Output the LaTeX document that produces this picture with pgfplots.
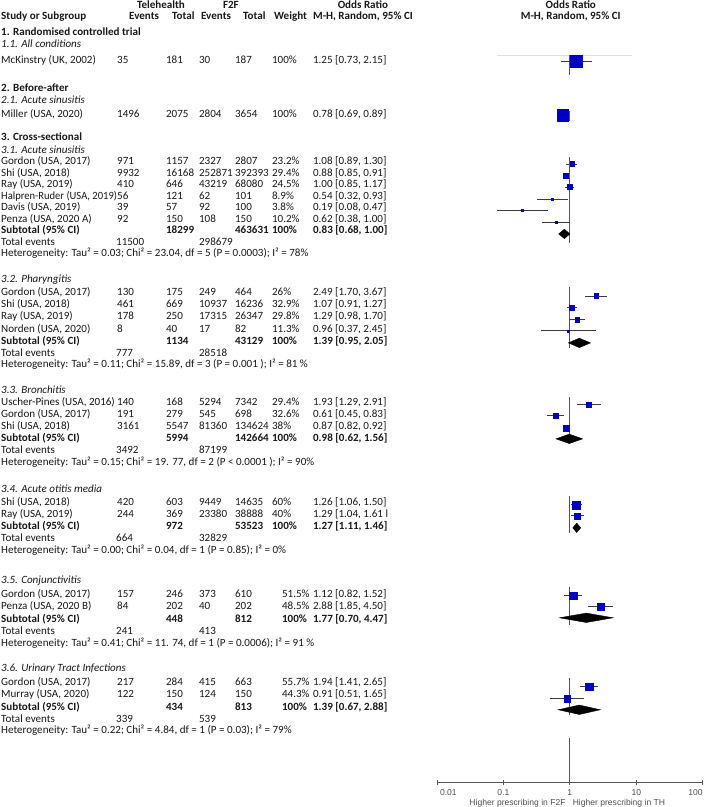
\documentclass[border=0pt]{standalone}
\usepackage{fontspec}
\setmainfont{Carlito}
\newfontfamily\arialfont{Liberation Sans}
\usepackage{graphicx}
\usepackage{pgfplots}
\pgfplotsset{compat=1.18}
\definecolor{sqblue}{RGB}{0,0,195}
\definecolor{txtc}{RGB}{25,25,25}
\definecolor{linec}{RGB}{60,60,60}
\definecolor{vlc}{RGB}{85,85,85}
\definecolor{labc}{RGB}{80,80,80}
\newcommand{\fs}{\fontsize{11.1}{12}\selectfont}
\newcommand{\afs}{\arialfont\fontsize{8.6}{9}\selectfont}
\def\wx{272}
\newcommand{\St}[8]{%
  \node[T] at (1,{#1+3.5}) {#2};
  \node[T] at (117,{#1+3.5}) {#3};
  \node[T] at (166,{#1+3.5}) {#4};
  \node[T] at (199,{#1+3.5}) {#5};
  \node[T] at (235,{#1+3.5}) {#6};
  \node[T] at (\wx,{#1+3.5}) {#7};
  \node[T] at (313,{#1+3.5}) {#8};}
\newcommand{\Sub}[5]{%
  \node[TB] at (1,{#1+3.5}) {Subtotal (95\% CI)};
  \node[TB] at (166,{#1+3.5}) {#2};
  \node[TB] at (235,{#1+3.5}) {#3};
  \node[TB] at (\wx,{#1+3.5}) {#4};
  \node[TB] at (313,{#1+3.5}) {#5};}
\newcommand{\Tot}[3]{%
  \node[T] at (1,{#1+3.5}) {Total events};
  \node[T] at (116,{#1+3.5}) {#2};
  \node[T] at (199,{#1+3.5}) {#3};}
\newcommand{\Het}[2]{\node[T] at (1,{#1+3.5}) {#2};}
\newcommand{\Grp}[2]{\node[TB] at (1,{#1+3.5}) {#2};}
\newcommand{\Sgp}[2]{\node[TI] at (1,{#1+3.5}) {#2};}
\begin{document}
\begin{tikzpicture}
\begin{scope}[x=1bp,y=-1bp,
  T/.style={anchor=base west, inner sep=0pt, font=\fs, text=txtc},
  TB/.style={T, font=\fs\bfseries},
  TI/.style={T, font=\fs\itshape},
  H/.style={anchor=base, inner sep=0pt, font=\fs\bfseries, text=txtc}]
\useasboundingbox (0,0) rectangle (704,807);
% header
\node[H] at (161,8.5) {Telehealth};
\node[H] at (231,8.5) {F2F};
\node[H] at (363,8.5) {Odds Ratio};
\node[H] at (571,8.5) {Odds Ratio};
\node[TB] at (1,19.5) {Study or Subgroup};
\node[TB] at (129,19.5) {Events};
\node[TB] at (172,19.5) {Total};
\node[TB] at (201,19.5) {Events};
\node[TB] at (243,19.5) {Total};
\node[TB] at (274,19.5) {Weight};
\node[TB] at (313,19.5) {M-H, Random, 95\% CI};
\node[H] at (571,19.5) {M-H, Random, 95\% CI};
% 1
\Grp{32}{1. Randomised controlled trial}
\Sgp{44}{1.1. All conditions}
\St{60}{McKinstry (UK, 2002)}{35}{181}{30}{187}{100\%}{1.25 [0.73, 2.15]}
% 2
\Grp{88}{2. Before-after}
\Sgp{100}{2.1. Acute sinusitis}
\St{114}{Miller (USA, 2020)}{1496}{2075}{2804}{3654}{100\%}{0.78 [0.69, 0.89]}
% 3
\Grp{137}{3. Cross-sectional}
\Sgp{150}{3.1. Acute sinusitis}
\St{161.5}{Gordon (USA, 2017)}{971}{1157}{2327}{2807}{23.2\%}{1.08 [0.89, 1.30]}
\St{173}{Shi (USA, 2018)}{9932}{16168}{252871}{392393}{29.4\%}{0.88 [0.85, 0.91]}
\St{184.5}{Ray (USA, 2019)}{410}{646}{43219}{68080}{24.5\%}{1.00 [0.85, 1.17]}
\St{196}{\scalebox{0.955}[1]{Halpren-Ruder (USA, 2019)}}{56}{121}{62}{101}{8.9\%}{0.54 [0.32, 0.93]}
\St{207.5}{Davis (USA, 2019)}{39}{57}{92}{100}{3.8\%}{0.19 [0.08, 0.47]}
\St{219}{Penza (USA, 2020 A)}{92}{150}{108}{150}{10.2\%}{0.62 [0.38, 1.00]}
\Sub{230.5}{18299}{463631}{100\%}{0.83 [0.68, 1.00]}
\Tot{242}{11500}{298679}
\Het{253.5}{Heterogeneity: Tau² = 0.03; Chi² = 23.04, df = 5 (P = 0.0003); I² = 78\%}
\Sgp{279}{3.2. Pharyngitis}
\St{292}{Gordon (USA, 2017)}{130}{175}{249}{464}{26\%}{2.49 [1.70, 3.67]}
\St{304}{Shi (USA, 2018)}{461}{669}{10937}{16236}{32.9\%}{1.07 [0.91, 1.27]}
\St{316.5}{Ray (USA, 2019)}{178}{250}{17315}{26347}{29.8\%}{1.29 [0.98, 1.70]}
\St{329}{Norden (USA, 2020)}{8}{40}{17}{82}{11.3\%}{0.96 [0.37, 2.45]}
\Sub{341.5}{1134}{43129}{100\%}{1.39 [0.95, 2.05]}
\Tot{353}{777}{28518}
\Het{364}{Heterogeneity: Tau² = 0.11; Chi² = 15.89, df = 3 (P = 0.001 ); I² = 81 \%}
\Sgp{390}{3.3. Bronchitis}
\St{402}{Uscher-Pines (USA, 2016)}{140}{168}{5294}{7342}{29.4\%}{1.93 [1.29, 2.91]}
\St{414}{Gordon (USA, 2017)}{191}{279}{545}{698}{32.6\%}{0.61 [0.45, 0.83]}
\St{426}{Shi (USA, 2018)}{3161}{5547}{81360}{134624}{38\%}{0.87 [0.82, 0.92]}
\Sub{438.5}{5994}{142664}{100\%}{0.98 [0.62, 1.56]}
\Tot{450.5}{3492}{87199}
\Het{462}{Heterogeneity: Tau² = 0.15; Chi² = 19. 77, df = 2 (P < 0.0001 ); I² = 90\%}
\Sgp{489}{3.4. Acute otitis media}
\St{502}{Shi (USA, 2018)}{420}{603}{9449}{14635}{60\%}{1.26 [1.06, 1.50]}
\St{514}{Ray (USA, 2019)}{244}{369}{23380}{38888}{40\%}{1.29 [1.04, 1.61 l}
\Sub{526}{972}{53523}{100\%}{1.27 [1.11, 1.46]}
\Tot{538}{664}{32829}
\Het{550}{Heterogeneity: Tau² = 0.00; Chi² = 0.04, df = 1 (P = 0.85); I² = 0\%}
\Sgp{580}{3.5. Conjunctivitis}
\def\wx{282}
\St{594}{Gordon (USA, 2017)}{157}{246}{373}{610}{51.5\%}{1.12 [0.82, 1.52]}
\St{606}{Penza (USA, 2020 B)}{84}{202}{40}{202}{48.5\%}{2.88 [1.85, 4.50]}
\Sub{619}{448}{812}{100\%}{1.77 [0.70, 4.47]}
\Tot{631}{241}{413}
\Het{643}{Heterogeneity: Tau² = 0.41; Chi² = 11. 74, df = 1 (P = 0.0006); I² = 91 \%}
\Sgp{668}{3.6. Urinary Tract Infections}
\St{682}{Gordon (USA, 2017)}{217}{284}{415}{663}{55.7\%}{1.94 [1.41, 2.65]}
\St{694}{Murray (USA, 2020)}{122}{150}{124}{150}{44.3\%}{0.91 [0.51, 1.65]}
\Sub{707}{434}{813}{100\%}{1.39 [0.67, 2.88]}
\Tot{719}{339}{539}
\Het{730}{Heterogeneity: Tau² = 0.22; Chi² = 4.84, df = 1 (P = 0.03); I² = 79\%}
\end{scope}
% forest plot
\begin{axis}[at={(437bp,-783bp)}, anchor=south west, scale only axis,
  width=266bp, height=783bp, xmode=log, xmin=0.01, xmax=100,
  ymin=-783, ymax=0, clip=false,
  axis x line*=bottom, axis y line=none, ytick=\empty,
  x axis line style={-, vlc, line width=0.8pt},
  xtick={0.01,0.1,1,10,100}, xticklabels={}, xminorticks=false,
  tick align=center, major tick length=5bp,
  x tick style={vlc, line width=0.7pt},
  unbounded coords=jump]
% faint line
\addplot[black!12, line width=0.6pt] coordinates {(0.08,-55) (8.55,-55)};
% line of no effect
\addplot[vlc, line width=0.9pt] table[row sep=\\] {
x y\\ 1 -55\\ 1 -75\\ nan nan\\ 1 -111\\ 1 -121\\ nan nan\\
1 -157\\ 1 -243\\ nan nan\\ 1 -287\\ 1 -348\\ nan nan\\
1 -397\\ 1 -443\\ nan nan\\ 1 -496\\ 1 -533\\ nan nan\\
1 -587\\ 1 -625\\ nan nan\\ 1 -678\\ 1 -715\\ nan nan\\
1 -738\\ 1 -783\\};
% confidence intervals
\addplot[linec, line width=0.8pt] table[row sep=\\] {
x y\\
0.73 -61\\ 2.15 -61\\ nan nan\\
0.69 -115\\ 0.89 -115\\ nan nan\\
0.89 -164\\ 1.30 -164\\ nan nan\\
0.85 -176\\ 0.91 -176\\ nan nan\\
0.85 -187\\ 1.17 -187\\ nan nan\\
0.32 -199\\ 0.93 -199\\ nan nan\\
0.08 -210\\ 0.47 -210\\ nan nan\\
0.38 -222\\ 1.00 -222\\ nan nan\\
1.70 -296\\ 3.67 -296\\ nan nan\\
0.91 -308\\ 1.27 -308\\ nan nan\\
0.98 -320\\ 1.70 -320\\ nan nan\\
0.37 -331\\ 2.45 -331\\ nan nan\\
1.29 -405\\ 2.91 -405\\ nan nan\\
0.45 -416\\ 0.83 -416\\ nan nan\\
0.82 -428\\ 0.92 -428\\ nan nan\\
1.06 -505\\ 1.50 -505\\ nan nan\\
1.04 -516\\ 1.61 -516\\ nan nan\\
0.82 -596\\ 1.52 -596\\ nan nan\\
1.85 -607\\ 4.50 -607\\ nan nan\\
1.41 -687\\ 2.65 -687\\ nan nan\\
0.51 -699\\ 1.65 -699\\};
% study estimates
\addplot[scatter, only marks, mark=square*,
  scatter/use mapped color={draw=sqblue, fill=sqblue},
  visualization depends on={\thisrow{h} \as \ms},
  scatter/@pre marker code/.append style={/tikz/mark size=\ms}]
  table[row sep=\\] {
x y h\\
1.25 -61 6.1\\
0.78 -115 5.9\\
1.08 -164 2.3\\
0.88 -176 2.5\\
1.00 -187 2.4\\
0.54 -199 1.2\\
0.19 -210 0.9\\
0.62 -222 1.2\\
2.49 -296 2.4\\
1.07 -308 2.5\\
1.29 -320 2.4\\
0.96 -331 1.0\\
1.93 -405 2.4\\
0.61 -416 2.7\\
0.87 -428 3.0\\
1.26 -505 4.1\\
1.29 -516 3.0\\
1.12 -596 3.8\\
2.88 -607 3.5\\
1.94 -687 3.8\\
0.91 -699 3.3\\};
% subtotal diamonds
\addplot[fill=black, draw=black] coordinates {(0.68,-234) (0.83,-229.3) (1.00,-234) (0.83,-238.7)} --cycle;
\addplot[fill=black, draw=black] coordinates {(0.95,-343) (1.39,-338.3) (2.05,-343) (1.39,-347.7)} --cycle;
\addplot[fill=black, draw=black] coordinates {(0.62,-439) (0.98,-434.3) (1.56,-439) (0.98,-443.7)} --cycle;
\addplot[fill=black, draw=black] coordinates {(1.11,-528) (1.27,-523.3) (1.46,-528) (1.27,-532.7)} --cycle;
\addplot[fill=black, draw=black] coordinates {(0.70,-618) (1.77,-613.3) (4.47,-618) (1.77,-622.7)} --cycle;
\addplot[fill=black, draw=black] coordinates {(0.67,-710) (1.39,-705.3) (2.88,-710) (1.39,-714.7)} --cycle;
% tick labels and axis captions
\node[font=\afs, text=labc, anchor=base west, inner sep=0pt] at (axis cs:0.01,-795.7) {\hspace{3bp}0.01};
\node[font=\afs, text=labc, anchor=base, inner sep=0pt] at (axis cs:0.1,-795.7) {0.1};
\node[font=\afs, text=labc, anchor=base, inner sep=0pt] at (axis cs:1,-795.7) {1};
\node[font=\afs, text=labc, anchor=base, inner sep=0pt] at (axis cs:10,-795.7) {10};
\node[font=\afs, text=labc, anchor=base east, inner sep=0pt] at (axis cs:100,-795.7) {100};
\node[font=\afs, text=labc, anchor=base east, inner sep=0pt] at (axis cs:0.87,-805.5) {Higher prescribing in F2F};
\node[font=\afs, text=labc, anchor=base west, inner sep=0pt] at (axis cs:1.1,-805.5) {Higher prescribing in TH};
\end{axis}
\end{tikzpicture}
\end{document}
